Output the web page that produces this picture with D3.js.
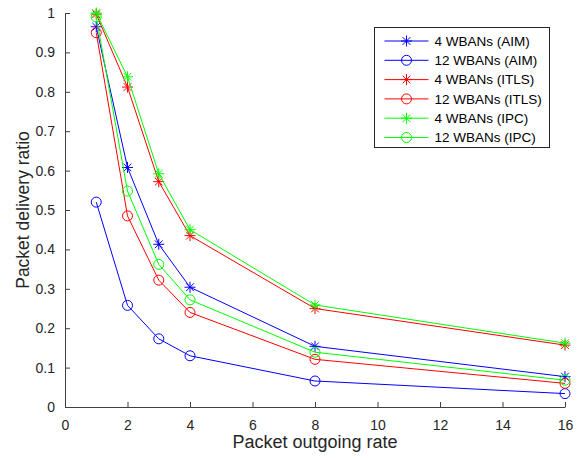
<!DOCTYPE html>
<html>
<head>
<meta charset="utf-8">
<script src="https://cdn.jsdelivr.net/npm/d3@7"></script>
<style>
  body { margin: 0; background: #fff; }
  text { font-family: "Liberation Sans", Arial, sans-serif; }
</style>
</head>
<body>
<svg width="583" height="459"></svg>
<script>
var rates = [1, 2, 3, 4, 8, 16];

var aim4   = [0.965, 0.608, 0.413, 0.304, 0.154, 0.077];
var aim12  = [0.52, 0.258, 0.173, 0.13, 0.066, 0.034];
var itls4  = [0.997, 0.812, 0.572, 0.435, 0.25, 0.157];
var itls12 = [0.95, 0.485, 0.322, 0.24, 0.121, 0.06];
var ipc4   = [1.0, 0.838, 0.592, 0.45, 0.259, 0.162];
var ipc12  = [0.99, 0.548, 0.362, 0.272, 0.139, 0.068];

var xTicks = [0, 2, 4, 6, 8, 10, 12, 14, 16];
var yTicks = [0, 0.1, 0.2, 0.3, 0.4, 0.5, 0.6, 0.7, 0.8, 0.9, 1];

var series = [
  {name: "4 WBANs (AIM)",   values: aim4,   color: "#0000ff", marker: "star"},
  {name: "12 WBANs (AIM)",  values: aim12,  color: "#0000ff", marker: "circle"},
  {name: "4 WBANs (ITLS)",  values: itls4,  color: "#ff0000", marker: "star"},
  {name: "12 WBANs (ITLS)", values: itls12, color: "#ff0000", marker: "circle"},
  {name: "4 WBANs (IPC)",   values: ipc4,   color: "#00ff00", marker: "star"},
  {name: "12 WBANs (IPC)",  values: ipc12,  color: "#00ff00", marker: "circle"}
];

var svg = d3.select("svg"),
    margin = {top: 13, right: 18, bottom: 52, left: 65},
    width = +svg.attr("width") - margin.left - margin.right,
    height = +svg.attr("height") - margin.top - margin.bottom,
    g = svg.append("g").attr("transform", "translate(" + margin.left + "," + margin.top + ")");

var x = d3.scaleLinear().domain([0, 16]).range([0, width]);
var y = d3.scaleLinear().domain([0, 1]).range([height, 0]);

var axisColor = "#262626";

// axes, MATLAB style ticks pointing inward
var xAxis = g.append("g")
    .attr("transform", "translate(0," + height + ")")
    .call(d3.axisBottom(x).tickValues(xTicks).tickFormat(d3.format("d")).tickSizeInner(-5).tickSizeOuter(0).tickPadding(13));
var yAxis = g.append("g")
    .call(d3.axisLeft(y).tickValues(yTicks).tickFormat(function(d) { return d === 0 || d === 1 ? d : d3.format(".1f")(d); })
      .tickSizeInner(-5).tickSizeOuter(0).tickPadding(10));

[xAxis, yAxis].forEach(function(a) {
  a.select(".domain").attr("stroke", "#404040").attr("stroke-width", 1);
  a.selectAll(".tick line").attr("stroke", "#404040");
  a.selectAll(".tick text").attr("fill", axisColor).attr("font-size", 14);
});

svg.append("text")
    .attr("x", margin.left + width / 2)
    .attr("y", 448)
    .attr("text-anchor", "middle")
    .attr("fill", axisColor)
    .attr("font-size", 18)
    .text("Packet outgoing rate");

svg.append("text")
    .attr("transform", "translate(29," + (margin.top + height / 2) + ") rotate(-90)")
    .attr("text-anchor", "middle")
    .attr("fill", axisColor)
    .attr("font-size", 17.5)
    .text("Packet delivery ratio");

var line = d3.line()
    .x(function(d) { return x(d[0]); })
    .y(function(d) { return y(d[1]); });

function drawMarker(sel, type, color) {
  if (type === "circle") {
    sel.append("circle").attr("r", 5).attr("fill", "none").attr("stroke", color).attr("stroke-width", 1);
  } else {
    var r = 5.5, d = r * 0.7;
    sel.append("path")
      .attr("d", "M" + (-r) + ",0L" + r + ",0M0," + (-r) + "L0," + r +
                 "M" + (-d) + "," + (-d) + "L" + d + "," + d +
                 "M" + (-d) + "," + d + "L" + d + "," + (-d))
      .attr("stroke", color).attr("stroke-width", 1).attr("fill", "none");
  }
}

series.forEach(function(s) {
  var pts = rates.map(function(r, i) { return [r, s.values[i]]; });
  g.append("path")
      .attr("d", line(pts))
      .attr("stroke", s.color)
      .attr("stroke-width", 1)
      .attr("fill", "none");
  pts.forEach(function(p) {
    var m = g.append("g").attr("transform", "translate(" + x(p[0]) + "," + y(p[1]) + ")");
    drawMarker(m, s.marker, s.color);
  });
});

// legend
var legend = svg.append("g").attr("transform", "translate(374.5,27.5)");
legend.append("rect")
    .attr("width", 175)
    .attr("height", 120)
    .attr("fill", "#fff")
    .attr("stroke", "#262626")
    .attr("stroke-width", 1);

series.forEach(function(s, i) {
  var row = legend.append("g").attr("transform", "translate(0," + (13.5 + i * 19.3) + ")");
  row.append("line").attr("x1", 10).attr("x2", 54).attr("stroke", s.color).attr("stroke-width", 1);
  var m = row.append("g").attr("transform", "translate(32,0)");
  drawMarker(m, s.marker, s.color);
  row.append("text")
      .attr("x", 60)
      .attr("dy", "0.35em")
      .attr("font-size", 13.5)
      .attr("fill", "#000")
      .text(s.name);
});
</script>
</body>
</html>
